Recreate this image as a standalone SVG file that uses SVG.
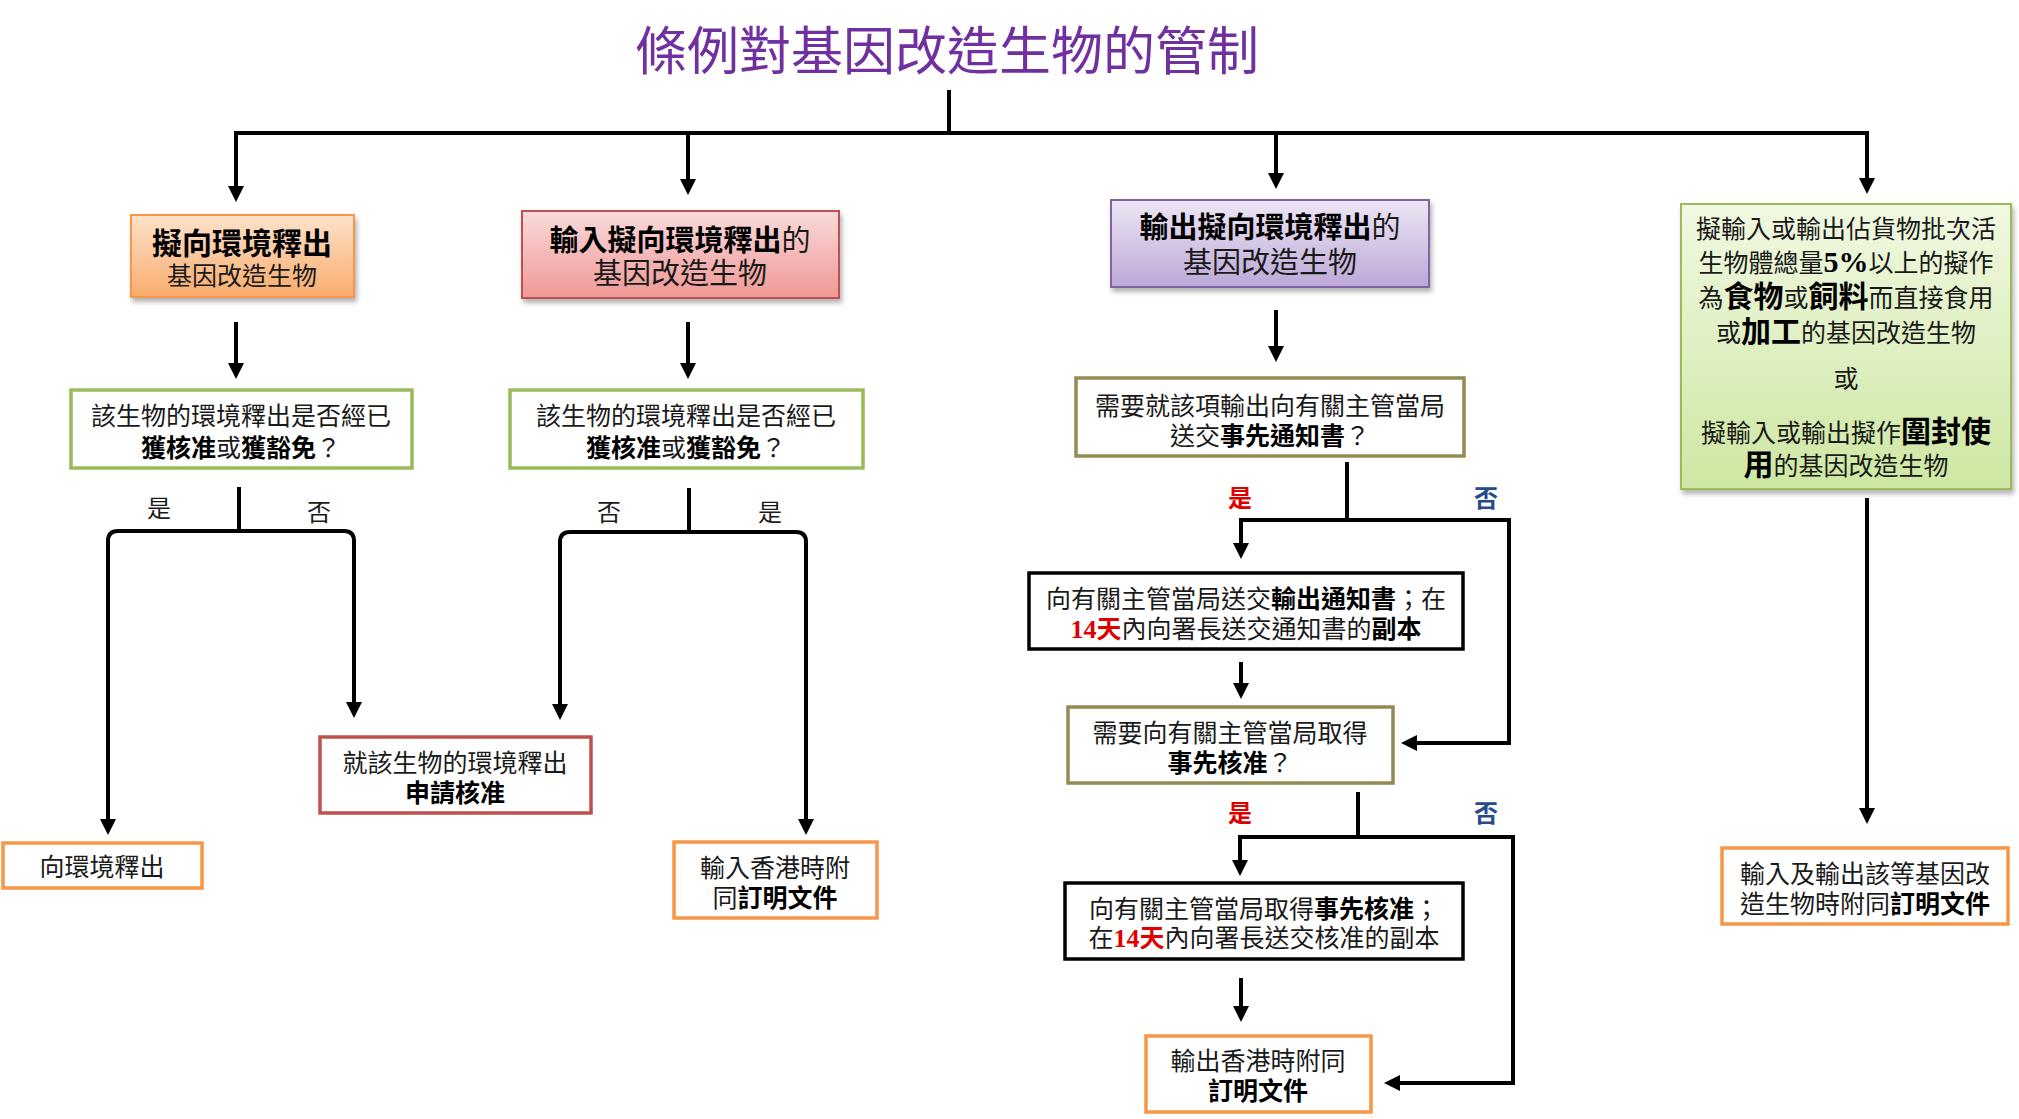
<svg xmlns="http://www.w3.org/2000/svg" width="2019" height="1119" viewBox="0 0 2019 1119">
<style>
text{font-family:"Noto Sans CJK TC","Noto Sans CJK SC",sans-serif;fill:#1a1a1a;font-size:25px;text-anchor:middle}
.b{font-weight:700;fill:#000}
.big{font-weight:700;font-size:30px;fill:#000}
.num{font-family:"Liberation Serif",serif;font-weight:700}
.red{fill:#e00000}
.title{font-size:52px;fill:#7030A0}
.lbl{font-size:24px}
.yes{font-size:24px;fill:#e00000;font-weight:700}
.no{font-size:24px;fill:#254C8A;font-weight:700}
.con{fill:none;stroke:#000;stroke-width:4;stroke-linejoin:miter}
.arr{marker-end:url(#ah)}
</style>
<defs>
<marker id="ah" markerUnits="userSpaceOnUse" viewBox="0 -8 16 16" markerWidth="16" markerHeight="16" refX="1" refY="0" orient="auto">
<path d="M0,-8 L16,0 L0,8 z" fill="#000"/>
</marker>
<linearGradient id="gO" x1="0" y1="0" x2="0" y2="1"><stop offset="0" stop-color="#FDE2CB"/><stop offset="1" stop-color="#F9AC6C"/></linearGradient>
<linearGradient id="gR" x1="0" y1="0" x2="0" y2="1"><stop offset="0" stop-color="#FADADA"/><stop offset="1" stop-color="#EF9896"/></linearGradient>
<linearGradient id="gP" x1="0" y1="0" x2="0" y2="1"><stop offset="0" stop-color="#EDE6F4"/><stop offset="1" stop-color="#BCA8D7"/></linearGradient>
<linearGradient id="gG" x1="0" y1="0" x2="0" y2="1"><stop offset="0" stop-color="#F1F8E2"/><stop offset="1" stop-color="#CDE7A2"/></linearGradient>
<filter id="sh" x="-10%" y="-10%" width="125%" height="135%"><feDropShadow dx="2" dy="4" stdDeviation="2.5" flood-color="#000" flood-opacity="0.3"/></filter>
</defs>
<rect width="2019" height="1119" fill="#fff"/>

<text class="title" x="947" y="70">條例對基因改造生物的管制</text>

<g id="connectors">
<path class="con" d="M949,90 V133"/>
<path class="con" d="M234,133 H1869"/>
<path class="con arr" d="M236,133 V187"/>
<path class="con arr" d="M688,133 V180"/>
<path class="con arr" d="M1276,133 V174"/>
<path class="con arr" d="M1867,133 V179"/>
<path class="con arr" d="M236,322 V364"/>
<path class="con arr" d="M688,322 V364"/>
<path class="con arr" d="M1276,310 V347"/>
<path class="con arr" d="M1867,498 V809"/>
<path class="con" d="M239,487 V531"/>
<path class="con arr" d="M239,531 H118 Q108,531 108,541 V820"/>
<path class="con arr" d="M239,531 H344 Q354,531 354,541 V703"/>
<path class="con" d="M689,488 V532"/>
<path class="con arr" d="M689,532 H570 Q560,532 560,542 V705"/>
<path class="con arr" d="M689,532 H796 Q806,532 806,542 V820"/>
<path class="con" d="M1347,462 V520"/>
<path class="con arr" d="M1347,520 H1241 V544"/>
<path class="con arr" d="M1347,520 H1509 V743 H1416"/>
<path class="con arr" d="M1241,662 V684"/>
<path class="con" d="M1358,792 V837"/>
<path class="con arr" d="M1358,837 H1240 V861"/>
<path class="con arr" d="M1358,837 H1513 V1083 H1399"/>
<path class="con arr" d="M1241,978 V1007"/>
</g>

<g id="labels">
<text class="lbl" x="159" y="517">是</text>
<text class="lbl" x="319" y="521">否</text>
<text class="lbl" x="609" y="521">否</text>
<text class="lbl" x="770" y="521">是</text>
<text class="yes" x="1240" y="507">是</text>
<text class="no" x="1486" y="507">否</text>
<text class="yes" x="1240" y="822">是</text>
<text class="no" x="1486" y="822">否</text>
</g>

<g id="box1">
<rect x="131" y="215" width="223" height="82" fill="url(#gO)" stroke="#F79646" stroke-width="2" filter="url(#sh)"/>
<text><tspan x="242" y="254" class="b" style="font-size:30px">擬向環境釋出</tspan><tspan x="242" y="285">基因改造生物</tspan></text>
</g>
<g id="box2">
<rect x="522" y="211" width="317" height="87" fill="url(#gR)" stroke="#C0504D" stroke-width="2" filter="url(#sh)"/>
<text style="font-size:29px"><tspan x="680" y="251" class="b">輸入擬向環境釋出</tspan><tspan>的</tspan><tspan x="680" y="284">基因改造生物</tspan></text>
</g>
<g id="box3">
<rect x="1111" y="200" width="318" height="87" fill="url(#gP)" stroke="#8064A2" stroke-width="2" filter="url(#sh)"/>
<text style="font-size:29px"><tspan x="1270" y="238" class="b">輸出擬向環境釋出</tspan><tspan>的</tspan><tspan x="1270" y="273">基因改造生物</tspan></text>
</g>
<g id="box4">
<rect x="1681" y="204" width="330" height="285" fill="url(#gG)" stroke="#9BBB59" stroke-width="2" filter="url(#sh)"/>
<text><tspan x="1846" y="237.5">擬輸入或輸出佔貨物批次活</tspan><tspan x="1846" y="271.5">生物體總量</tspan><tspan class="num b" style="font-size:30px">5%</tspan><tspan>以上的擬作</tspan><tspan x="1846" y="306.5">為</tspan><tspan class="big">食物</tspan><tspan>或</tspan><tspan class="big">飼料</tspan><tspan>而直接食用</tspan><tspan x="1846" y="341.5">或</tspan><tspan class="big">加工</tspan><tspan>的基因改造生物</tspan><tspan x="1846" y="387.5">或</tspan><tspan x="1846" y="441.5">擬輸入或輸出擬作</tspan><tspan class="big">圍封使</tspan><tspan x="1846" y="474.5" class="big">用</tspan><tspan>的基因改造生物</tspan></text>
</g>

<g id="d1">
<rect x="71" y="390" width="341" height="78" fill="#fff" stroke="#9BBB59" stroke-width="3.5"/>
<text><tspan x="241" y="424.5">該生物的環境釋出是否經已</tspan><tspan x="241" y="456.5" class="b">獲核准</tspan><tspan>或</tspan><tspan class="b">獲豁免</tspan><tspan>？</tspan></text>
</g>
<g id="d2">
<rect x="510" y="390" width="353" height="78" fill="#fff" stroke="#9BBB59" stroke-width="3.5"/>
<text><tspan x="686" y="424.5">該生物的環境釋出是否經已</tspan><tspan x="686" y="456.5" class="b">獲核准</tspan><tspan>或</tspan><tspan class="b">獲豁免</tspan><tspan>？</tspan></text>
</g>
<g id="r1">
<rect x="3" y="843" width="199" height="45" fill="#fff" stroke="#F79646" stroke-width="3.5"/>
<text x="102" y="876">向環境釋出</text>
</g>
<g id="r2">
<rect x="320" y="737" width="271" height="76" fill="#fff" stroke="#C0504D" stroke-width="3.5"/>
<text><tspan x="455" y="771.5">就該生物的環境釋出</tspan><tspan x="455" y="801.5" class="b">申請核准</tspan></text>
</g>
<g id="r3">
<rect x="674" y="842" width="203" height="76" fill="#fff" stroke="#F79646" stroke-width="3.5"/>
<text><tspan x="775" y="876.5">輸入香港時附</tspan><tspan x="775" y="906.5">同</tspan><tspan class="b">訂明文件</tspan></text>
</g>
<g id="d3">
<rect x="1076" y="378" width="388" height="78" fill="#fff" stroke="#948A54" stroke-width="3.5"/>
<text><tspan x="1270" y="414.5">需要就該項輸出向有關主管當局</tspan><tspan x="1270" y="444.5">送交</tspan><tspan class="b">事先通知書</tspan><tspan>？</tspan></text>
</g>
<g id="n1">
<rect x="1029" y="573" width="434" height="76" fill="#fff" stroke="#000" stroke-width="3.5"/>
<text><tspan x="1246" y="607.5">向有關主管當局送交</tspan><tspan class="b">輸出通知書</tspan><tspan>；在</tspan><tspan x="1246" y="637.5" class="num b red" style="font-size:26px">14</tspan><tspan class="red" style="font-weight:700">天</tspan><tspan>內向署長送交通知書的</tspan><tspan class="b">副本</tspan></text>
</g>
<g id="d4">
<rect x="1068" y="707" width="325" height="76" fill="#fff" stroke="#948A54" stroke-width="3.5"/>
<text><tspan x="1230" y="741.5">需要向有關主管當局取得</tspan><tspan x="1230" y="771.5" class="b">事先核准</tspan><tspan>？</tspan></text>
</g>
<g id="n2">
<rect x="1065" y="883" width="398" height="76" fill="#fff" stroke="#000" stroke-width="3.5"/>
<text><tspan x="1264" y="917.5">向有關主管當局取得</tspan><tspan class="b">事先核准</tspan><tspan>；</tspan><tspan x="1264" y="946.5">在</tspan><tspan class="num b red" style="font-size:26px">14</tspan><tspan class="red" style="font-weight:700">天</tspan><tspan>內向署長送交核准的副本</tspan></text>
</g>
<g id="r4">
<rect x="1146" y="1036" width="225" height="76" fill="#fff" stroke="#F79646" stroke-width="3.5"/>
<text><tspan x="1258" y="1069.5">輸出香港時附同</tspan><tspan x="1258" y="1099.5" class="b">訂明文件</tspan></text>
</g>
<g id="r5">
<rect x="1722" y="848" width="286" height="76" fill="#fff" stroke="#F79646" stroke-width="3.5"/>
<text><tspan x="1865" y="882.5">輸入及輸出該等基因改</tspan><tspan x="1865" y="912.5">造生物時附同</tspan><tspan class="b">訂明文件</tspan></text>
</g>
</svg>
